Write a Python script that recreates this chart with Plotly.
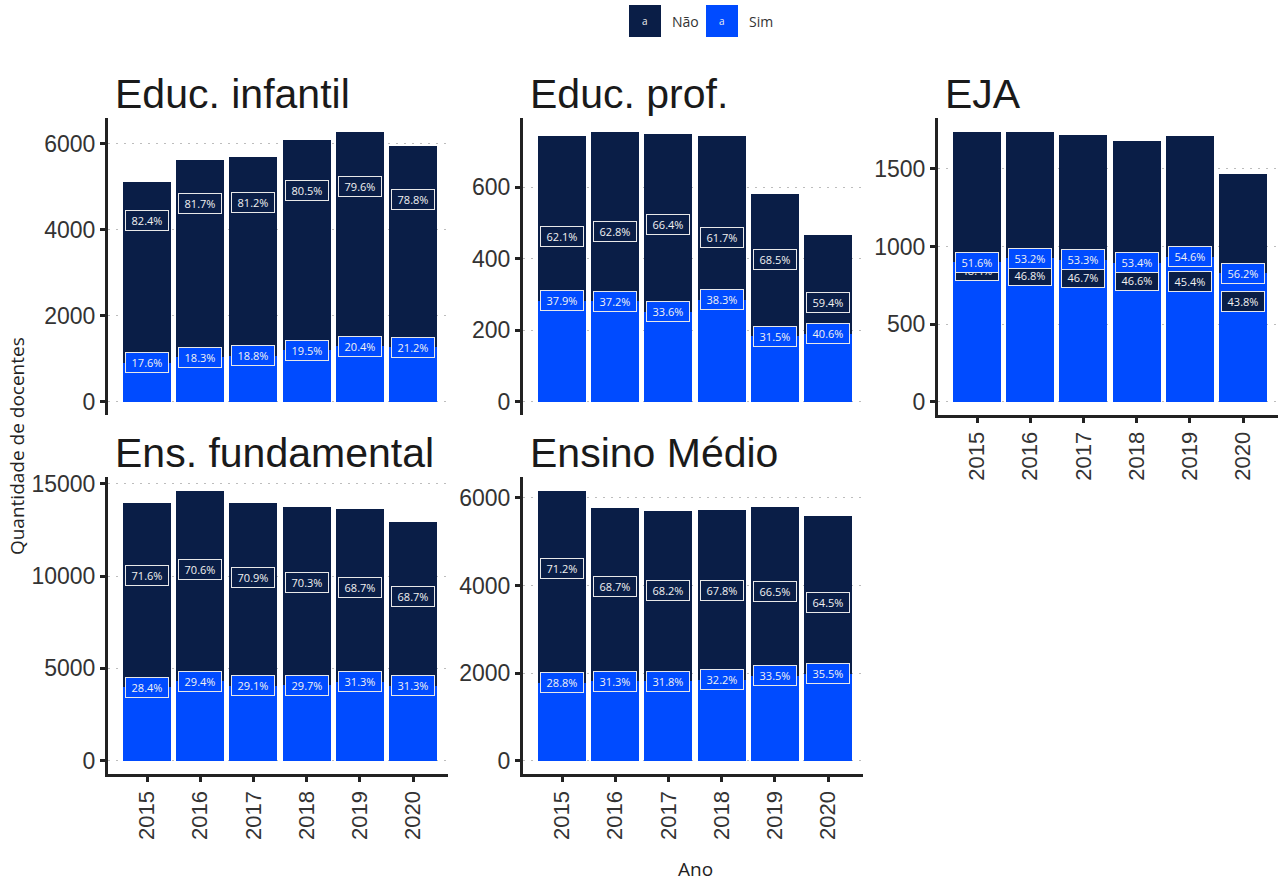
import plotly.graph_objects as go

# ---------------- data ----------------
anos = [2015, 2016, 2017, 2018, 2019, 2020]
etapas = ["Educ. infantil", "Educ. prof.", "EJA", "Ens. fundamental", "Ensino Médio"]

total_infantil = [5116, 5628, 5698, 6093, 6279, 5953]
total_prof = [743, 756, 748, 743, 582, 467]
total_eja = [1741, 1735, 1716, 1677, 1709, 1470]
total_fund = [13983, 14636, 13983, 13765, 13656, 12949]
total_medio = [6167, 5778, 5709, 5732, 5800, 5594]

sim_infantil = [17.6, 18.3, 18.8, 19.5, 20.4, 21.2]
nao_infantil = [82.4, 81.7, 81.2, 80.5, 79.6, 78.8]
sim_prof = [37.9, 37.2, 33.6, 38.3, 31.5, 40.6]
nao_prof = [62.1, 62.8, 66.4, 61.7, 68.5, 59.4]
sim_eja = [51.6, 53.2, 53.3, 53.4, 54.6, 56.2]
nao_eja = [48.4, 46.8, 46.7, 46.6, 45.4, 43.8]
sim_fund = [28.4, 29.4, 29.1, 29.7, 31.3, 31.3]
nao_fund = [71.6, 70.6, 70.9, 70.3, 68.7, 68.7]
sim_medio = [28.8, 31.3, 31.8, 32.2, 33.5, 35.5]
nao_medio = [71.2, 68.7, 68.2, 67.8, 66.5, 64.5]

y_dticks = [2000, 200, 500, 5000, 2000]

totais = [total_infantil, total_prof, total_eja, total_fund, total_medio]
sims = [sim_infantil, sim_prof, sim_eja, sim_fund, sim_medio]
naos = [nao_infantil, nao_prof, nao_eja, nao_fund, nao_medio]

# ---------------- style ----------------
W, H = 1284, 881
NAVY = "#0A1E47"
BLUE = "#004BFF"
AXC = "#222222"
TICKC = "#333333"
TICKFONT = "Liberation Sans"
LABFONT = "Open Sans"

def fx(p):
    return p / W

def fy(p):
    # target pixel (from top) -> paper coordinate, small vertical correction
    q = (p - 6) / 0.993
    return 1 - q / H

col_left = [108, 523, 938]
panel_w = 340
row_top = [118, 477]
row_h = 297
pad_left_px = 39.0
step_px = 53.2

fig = go.Figure()
layout = dict(
    width=W, height=H, margin=dict(l=0, r=0, t=0, b=0),
    paper_bgcolor="white", plot_bgcolor="white",
    barmode="stack", showlegend=False,
    annotations=[], shapes=[],
)

label_anns_nao = []
label_anns_sim = []

for k, etapa in enumerate(etapas):
    r, c = divmod(k, 3)
    sfx = "" if k == 0 else str(k + 1)
    xa, ya = "x" + sfx, "y" + sfx
    tot = totais[k]
    sp = sims[k]
    npc = naos[k]
    sim_v = [t * p / 100 for t, p in zip(tot, sp)]
    nao_v = [t * p / 100 for t, p in zip(tot, npc)]

    fig.add_trace(go.Bar(x=anos, y=sim_v, xaxis=xa, yaxis=ya, name="Sim",
                         marker=dict(color=BLUE, line=dict(width=0)), width=0.9,
                         hoverinfo="skip"))
    fig.add_trace(go.Bar(x=anos, y=nao_v, xaxis=xa, yaxis=ya, name="Não",
                         marker=dict(color=NAVY, line=dict(width=0)), width=0.9,
                         hoverinfo="skip"))

    for a, v, p in zip(anos, nao_v, npc):
        label_anns_nao.append(dict(
            x=a, y=v, xref=xa, yref=ya, text=f"{p:.1f}%", showarrow=False,
            font=dict(family=LABFONT, size=11, color="#F2F2F2"),
            bgcolor=NAVY, bordercolor="#E8E8E8", borderwidth=1, borderpad=2,
            width=38, height=15, xanchor="center", yanchor="middle"))
    for a, v, p in zip(anos, sim_v, sp):
        label_anns_sim.append(dict(
            x=a, y=v, xref=xa, yref=ya, text=f"{p:.1f}%", showarrow=False,
            font=dict(family=LABFONT, size=11, color="#F2F2F2"),
            bgcolor=BLUE, bordercolor="#E8E8E8", borderwidth=1, borderpad=2,
            width=38, height=15, xanchor="center", yanchor="middle"))

    x0 = col_left[c]
    x1 = x0 + panel_w
    y0 = row_top[r]
    y1 = y0 + row_h
    xmin = anos[0] - pad_left_px / step_px
    xmax = anos[0] + (panel_w - pad_left_px) / step_px
    M = max(tot)
    bottom_axis = (r == 1) or (k == 2)

    layout["xaxis" + sfx] = dict(
        domain=[fx(x0), fx(x1)], range=[xmin, xmax], anchor=ya,
        tickvals=anos, ticktext=[str(a) for a in anos], tickangle=-90,
        showgrid=False, zeroline=False,
        showline=bottom_axis, linewidth=3, linecolor=AXC,
        ticks="outside" if bottom_axis else "", ticklen=5, tickwidth=2.5, tickcolor=AXC,
        showticklabels=bottom_axis,
        tickfont=dict(family=TICKFONT, size=22, color=TICKC),
    )
    layout["yaxis" + sfx] = dict(
        domain=[fy(y1), fy(y0)], range=[-0.05 * M, 1.05 * M], anchor=xa,
        tick0=0, dtick=y_dticks[k], tickformat="d",
        showgrid=True, gridcolor="#BDBDBD", gridwidth=1, griddash="2px,6px",
        zeroline=False,
        showline=True, linewidth=3, linecolor=AXC,
        ticks="outside", ticklen=5, tickwidth=2.5, tickcolor=AXC,
        tickfont=dict(family=TICKFONT, size=23, color=TICKC),
    )

    # facet title
    layout["annotations"].append(dict(
        x=fx(x0 + 5), y=fy(y0 - 24), xref="paper", yref="paper",
        text=etapa, showarrow=False, xanchor="left", yanchor="middle",
        font=dict(family="Liberation Sans", size=41, color="#1A1A1A")))

layout["annotations"].extend(label_anns_nao)
layout["annotations"].extend(label_anns_sim)

# axis titles
layout["annotations"].append(dict(
    x=fx(17), y=fy(446), xref="paper", yref="paper", text="Quantidade de docentes",
    showarrow=False, textangle=-90, xanchor="center", yanchor="middle",
    font=dict(family="Open Sans", size=19, color="#222222")))
layout["annotations"].append(dict(
    x=fx(695), y=fy(869), xref="paper", yref="paper", text="Ano",
    showarrow=False, xanchor="center", yanchor="middle",
    font=dict(family="Open Sans", size=19, color="#222222")))

# legend (drawn manually to mimic ggplot's label keys)
legend_items = [("Não", NAVY, 629), ("Sim", BLUE, 706)]
for nome, cor, lx in legend_items:
    layout["shapes"].append(dict(
        type="rect", xref="paper", yref="paper",
        x0=fx(lx), x1=fx(lx + 32), y0=fy(37), y1=fy(5),
        fillcolor=cor, line=dict(width=0)))
    layout["annotations"].append(dict(
        x=fx(lx + 16), y=fy(21), xref="paper", yref="paper", text="a",
        showarrow=False, xanchor="center", yanchor="middle",
        font=dict(family="Open Sans", size=10, color="#EEEEEE")))
    layout["annotations"].append(dict(
        x=fx(lx + 41), y=fy(21), xref="paper", yref="paper", text=nome,
        showarrow=False, xanchor="left", yanchor="middle",
        font=dict(family="Open Sans", size=14, color="#333333")))

fig.update_layout(**layout)
fig.write_html(
    "out.html",
    config={"displayModeBar": False},
    post_script=(
        "document.documentElement.style.margin='0';"
        "document.body.style.margin='0';document.body.style.overflow='hidden';"
        "var d=document.getElementById('{plot_id}');"
        "d.style.position='fixed';d.style.top='0px';d.style.left='0px';"
    ),
)
